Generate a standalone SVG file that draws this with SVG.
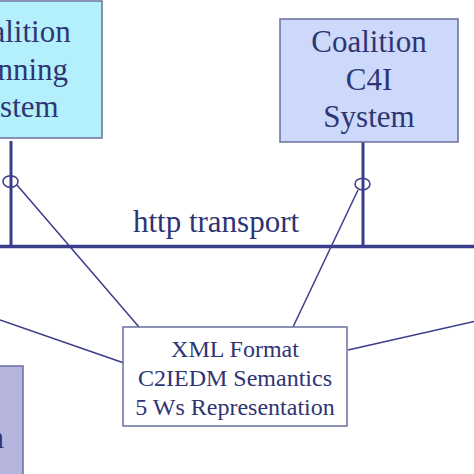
<svg xmlns="http://www.w3.org/2000/svg" width="474" height="474" viewBox="0 0 474 474">
<style>
.t{font-family:"Liberation Serif","Times New Roman",serif;fill:#2f3573;text-anchor:middle}
.box{stroke:#6a6f9e;stroke-width:1.5}
.wire{stroke:#3a3d8a;fill:none}
</style>
<rect width="474" height="474" fill="#ffffff"/>
<g id="connectors">
<line class="wire" x1="0" y1="246.5" x2="474" y2="246.5" stroke-width="3.5"/>
<line class="wire" x1="11" y1="141" x2="11" y2="246" stroke-width="3"/>
<line class="wire" x1="363" y1="142" x2="363" y2="246" stroke-width="3"/>
<line class="wire" x1="17" y1="185" x2="139" y2="327" stroke-width="1.5"/>
<line class="wire" x1="358" y1="190" x2="293" y2="327" stroke-width="1.5"/>
<line class="wire" x1="0" y1="320" x2="124" y2="363" stroke-width="1.5"/>
<line class="wire" x1="348" y1="350" x2="476" y2="321" stroke-width="1.5"/>
<ellipse class="wire" cx="10.5" cy="181.5" rx="7.5" ry="5.8" fill="#ffffff" stroke-width="1.5"/>
<ellipse class="wire" cx="362.5" cy="184" rx="7.5" ry="5.8" fill="#ffffff" stroke-width="1.5"/>
</g>
<g id="label-http">
<text class="t" x="216" y="231.5" font-size="31">http transport</text>
</g>
<g id="node-planning">
<rect class="box" x="-76" y="1" width="178" height="137" fill="#b4f0fb"/>
<text class="t" x="13" y="42" font-size="31">Coalition</text>
<text class="t" x="13" y="80" font-size="31">Planning</text>
<text class="t" x="13" y="117" font-size="31">System</text>
</g>
<g id="node-c4i">
<rect class="box" x="280" y="19" width="178" height="123" fill="#ccd9fa"/>
<text class="t" x="369" y="52" font-size="31">Coalition</text>
<text class="t" x="369" y="90" font-size="31">C4I</text>
<text class="t" x="369" y="127" font-size="31">System</text>
</g>
<g id="node-xml">
<rect class="box" x="123" y="327" width="224" height="99" fill="#ffffff"/>
<text class="t" x="235" y="357" font-size="24">XML Format</text>
<text class="t" x="235" y="386" font-size="24">C2IEDM Semantics</text>
<text class="t" x="235" y="415" font-size="24">5 Ws Representation</text>
</g>
<g id="node-bottom-left">
<rect class="box" x="-80" y="366" width="103" height="120" fill="#b5b5dd"/>
<text class="t" x="4" y="448" font-size="31" style="text-anchor:end">n</text>
</g>
</svg>
